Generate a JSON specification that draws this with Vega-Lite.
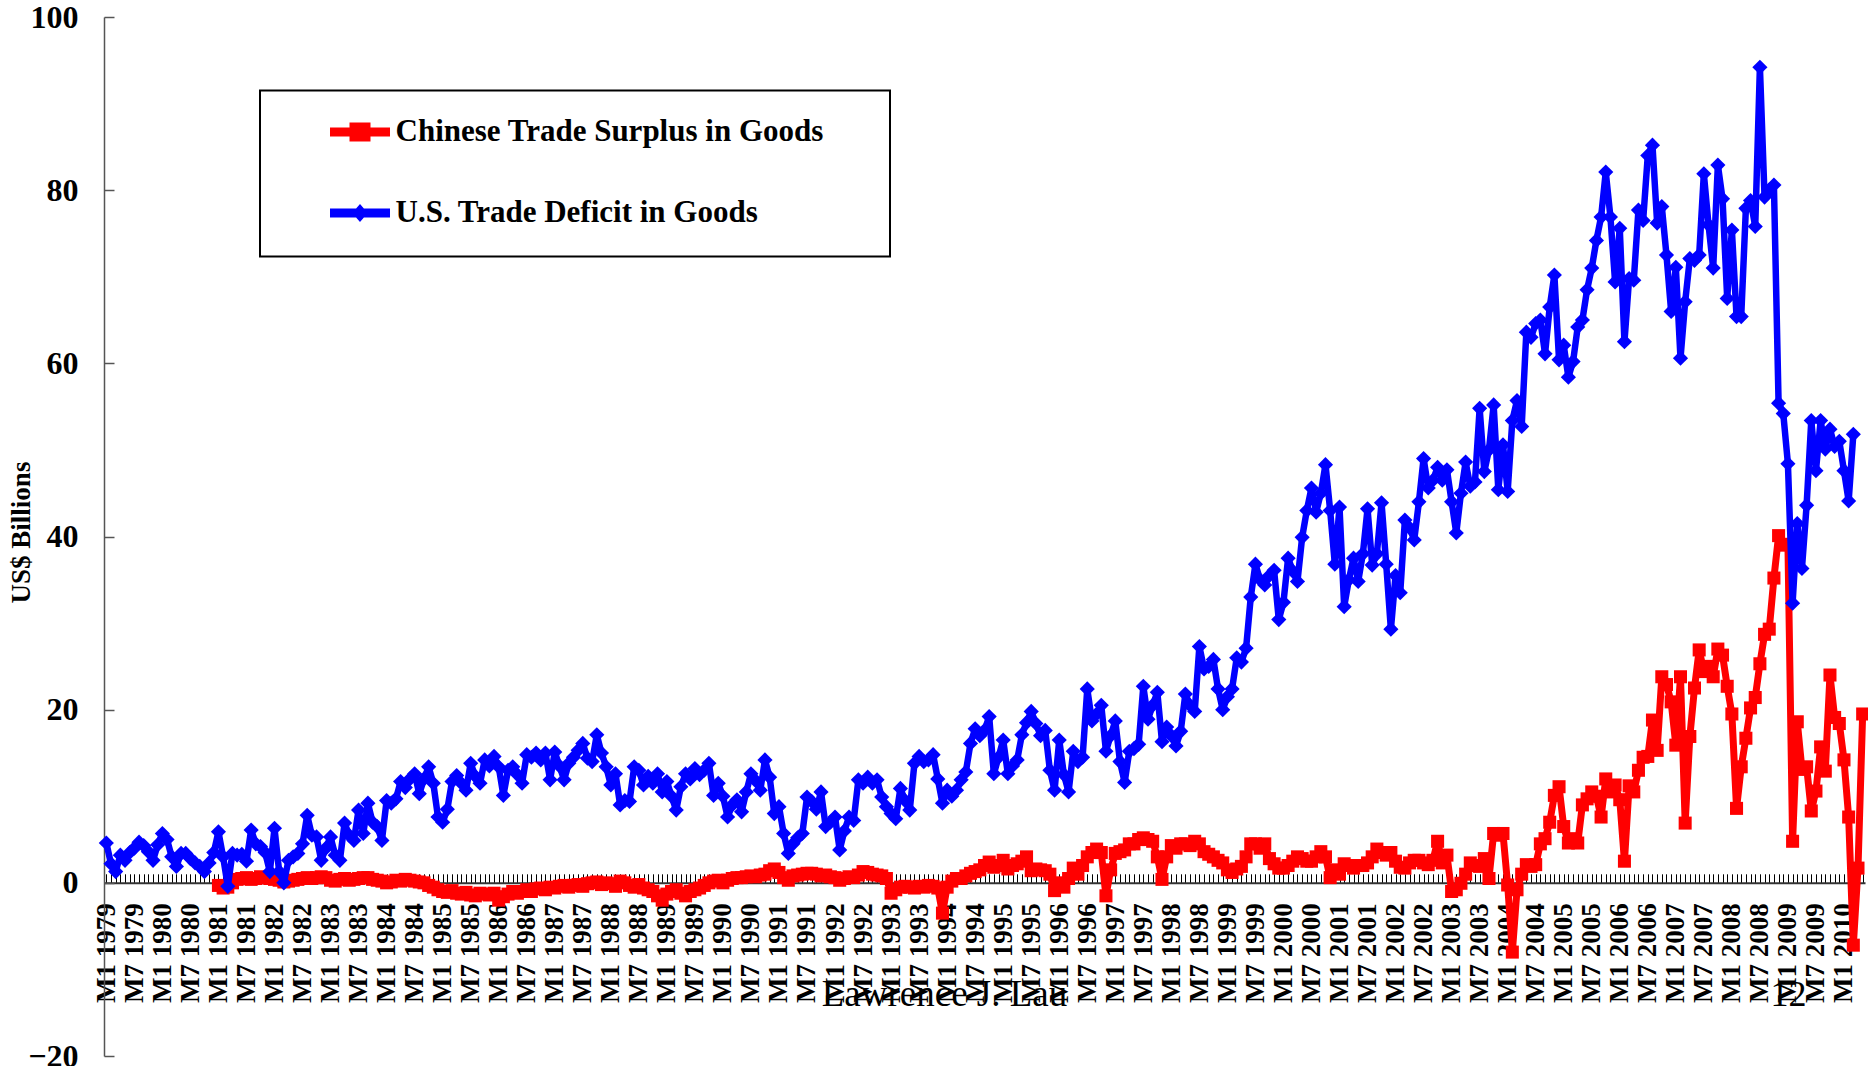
{
"$schema":"https://vega.github.io/schema/vega-lite/v6.json",
"width":1761,"height":1039,
"autosize":{"type":"none"},
"padding":{"left":104,"top":17,"right":3,"bottom":10},
"background":"white",
"config":{"view":{"stroke":null}},
"title":{"text":"Lawrence J. Lau","orient":"bottom","anchor":"middle","frame":"group","offset":-66,"dx":-40,"baseline":"alphabetic","font":"Liberation Serif","fontWeight":"normal","fontSize":37,"color":"#000"},
"data":{"values":[
{"m":"M1 1979","us":4.6},{"m":"M2 1979","us":2.2},{"m":"M3 1979","us":1.3},{"m":"M4 1979","us":3.2},{"m":"M5 1979","us":2.6},{"m":"M6 1979","us":3.5},{"m":"M7 1979","us":4.0},{"m":"M8 1979","us":4.7},{"m":"M9 1979","us":4.3},{"m":"M10 1979","us":3.6},{"m":"M11 1979","us":2.6},{"m":"M12 1979","us":4.4},
{"m":"M1 1980","us":5.7},{"m":"M2 1980","us":5.0},{"m":"M3 1980","us":3.0},{"m":"M4 1980","us":1.9},{"m":"M5 1980","us":3.4},{"m":"M6 1980","us":3.4},{"m":"M7 1980","us":2.8},{"m":"M8 1980","us":2.3},{"m":"M9 1980","us":1.9},{"m":"M10 1980","us":1.3},{"m":"M11 1980","us":2.3},{"m":"M12 1980","us":3.5},
{"m":"M1 1981","us":5.9,"cn":-0.3},{"m":"M2 1981","us":3.0,"cn":-0.6},{"m":"M3 1981","us":-0.4,"cn":-0.5},{"m":"M4 1981","us":3.4,"cn":0.0},{"m":"M5 1981","us":3.2,"cn":0.4},{"m":"M6 1981","us":3.3,"cn":0.5},{"m":"M7 1981","us":2.5,"cn":0.6},{"m":"M8 1981","us":6.1,"cn":0.4},{"m":"M9 1981","us":4.5,"cn":0.5},{"m":"M10 1981","us":4.2,"cn":0.7},{"m":"M11 1981","us":3.5,"cn":0.6},{"m":"M12 1981","us":1.3,"cn":0.5},
{"m":"M1 1982","us":6.3,"cn":0.4},{"m":"M2 1982","us":1.3,"cn":0.3},{"m":"M3 1982","us":0.0,"cn":0.1},{"m":"M4 1982","us":2.6,"cn":0.2},{"m":"M5 1982","us":3.0,"cn":0.3},{"m":"M6 1982","us":3.4,"cn":0.4},{"m":"M7 1982","us":4.5,"cn":0.5},{"m":"M8 1982","us":7.8,"cn":0.6},{"m":"M9 1982","us":5.5,"cn":0.5},{"m":"M10 1982","us":5.3,"cn":0.6},{"m":"M11 1982","us":2.6,"cn":0.7},{"m":"M12 1982","us":4.0,"cn":0.6},
{"m":"M1 1983","us":5.3,"cn":0.3},{"m":"M2 1983","us":3.2,"cn":0.2},{"m":"M3 1983","us":2.6,"cn":0.4},{"m":"M4 1983","us":6.9,"cn":0.5},{"m":"M5 1983","us":5.5,"cn":0.3},{"m":"M6 1983","us":4.9,"cn":0.4},{"m":"M7 1983","us":8.4,"cn":0.5},{"m":"M8 1983","us":5.7,"cn":0.6},{"m":"M9 1983","us":9.2,"cn":0.6},{"m":"M10 1983","us":7.0,"cn":0.4},{"m":"M11 1983","us":6.5,"cn":0.3},{"m":"M12 1983","us":4.9,"cn":0.2},
{"m":"M1 1984","us":9.5,"cn":0.0},{"m":"M2 1984","us":9.2,"cn":0.1},{"m":"M3 1984","us":9.7,"cn":0.3},{"m":"M4 1984","us":11.7,"cn":0.2},{"m":"M5 1984","us":11.0,"cn":0.4},{"m":"M6 1984","us":12.0,"cn":0.3},{"m":"M7 1984","us":12.6,"cn":0.2},{"m":"M8 1984","us":10.3,"cn":0.1},{"m":"M9 1984","us":12.0,"cn":0.0},{"m":"M10 1984","us":13.4,"cn":-0.3},{"m":"M11 1984","us":11.5,"cn":-0.5},{"m":"M12 1984","us":7.6,"cn":-0.8},
{"m":"M1 1985","us":7.0,"cn":-1.0},{"m":"M2 1985","us":8.5,"cn":-1.1},{"m":"M3 1985","us":11.7,"cn":-0.9},{"m":"M4 1985","us":12.4,"cn":-1.2},{"m":"M5 1985","us":11.5,"cn":-1.3},{"m":"M6 1985","us":10.7,"cn":-1.1},{"m":"M7 1985","us":13.8,"cn":-1.4},{"m":"M8 1985","us":12.3,"cn":-1.5},{"m":"M9 1985","us":11.5,"cn":-1.2},{"m":"M10 1985","us":14.2,"cn":-1.3},{"m":"M11 1985","us":13.5,"cn":-1.4},{"m":"M12 1985","us":14.6,"cn":-1.2},
{"m":"M1 1986","us":13.4,"cn":-2.0},{"m":"M2 1986","us":10.1,"cn":-1.6},{"m":"M3 1986","us":13.0,"cn":-1.3},{"m":"M4 1986","us":13.4,"cn":-1.0},{"m":"M5 1986","us":12.5,"cn":-1.2},{"m":"M6 1986","us":11.5,"cn":-1.0},{"m":"M7 1986","us":14.8,"cn":-0.8},{"m":"M8 1986","us":14.5,"cn":-1.0},{"m":"M9 1986","us":15.0,"cn":-0.7},{"m":"M10 1986","us":14.2,"cn":-0.6},{"m":"M11 1986","us":15.0,"cn":-0.8},{"m":"M12 1986","us":11.9,"cn":-0.5},
{"m":"M1 1987","us":15.1,"cn":-0.6},{"m":"M2 1987","us":13.5,"cn":-0.4},{"m":"M3 1987","us":11.9,"cn":-0.3},{"m":"M4 1987","us":13.8,"cn":-0.5},{"m":"M5 1987","us":14.5,"cn":-0.3},{"m":"M6 1987","us":15.3,"cn":-0.2},{"m":"M7 1987","us":16.1,"cn":-0.4},{"m":"M8 1987","us":14.4,"cn":-0.1},{"m":"M9 1987","us":14.0,"cn":0.0},{"m":"M10 1987","us":17.1,"cn":0.1},{"m":"M11 1987","us":15.0,"cn":-0.2},{"m":"M12 1987","us":13.4,"cn":0.0},
{"m":"M1 1988","us":11.3,"cn":-0.1},{"m":"M2 1988","us":12.6,"cn":-0.4},{"m":"M3 1988","us":9.0,"cn":0.2},{"m":"M4 1988","us":9.5,"cn":0.0},{"m":"M5 1988","us":9.4,"cn":-0.3},{"m":"M6 1988","us":13.4,"cn":-0.5},{"m":"M7 1988","us":13.0,"cn":-0.2},{"m":"M8 1988","us":11.3,"cn":-0.6},{"m":"M9 1988","us":12.3,"cn":-0.8},{"m":"M10 1988","us":11.5,"cn":-1.0},{"m":"M11 1988","us":12.6,"cn":-1.5},{"m":"M12 1988","us":10.5,"cn":-2.0},
{"m":"M1 1989","us":11.7,"cn":-1.3},{"m":"M2 1989","us":10.0,"cn":-1.0},{"m":"M3 1989","us":8.4,"cn":-0.8},{"m":"M4 1989","us":11.1,"cn":-1.2},{"m":"M5 1989","us":12.6,"cn":-1.5},{"m":"M6 1989","us":12.0,"cn":-1.0},{"m":"M7 1989","us":13.2,"cn":-0.8},{"m":"M8 1989","us":12.5,"cn":-0.6},{"m":"M9 1989","us":13.0,"cn":-0.3},{"m":"M10 1989","us":13.8,"cn":0.0},{"m":"M11 1989","us":10.1,"cn":0.2},{"m":"M12 1989","us":11.5,"cn":0.3},
{"m":"M1 1990","us":10.0,"cn":0.0},{"m":"M2 1990","us":7.6,"cn":0.3},{"m":"M3 1990","us":9.0,"cn":0.5},{"m":"M4 1990","us":9.6,"cn":0.6},{"m":"M5 1990","us":8.2,"cn":0.6},{"m":"M6 1990","us":10.5,"cn":0.7},{"m":"M7 1990","us":12.6,"cn":0.8},{"m":"M8 1990","us":11.8,"cn":0.7},{"m":"M9 1990","us":10.7,"cn":0.9},{"m":"M10 1990","us":14.2,"cn":1.0},{"m":"M11 1990","us":12.2,"cn":1.4},{"m":"M12 1990","us":8.0,"cn":1.6},
{"m":"M1 1991","us":8.8,"cn":1.2},{"m":"M2 1991","us":5.7,"cn":0.6},{"m":"M3 1991","us":3.4,"cn":0.3},{"m":"M4 1991","us":4.5,"cn":0.8},{"m":"M5 1991","us":5.2,"cn":0.9},{"m":"M6 1991","us":5.7,"cn":1.0},{"m":"M7 1991","us":9.9,"cn":1.1},{"m":"M8 1991","us":9.4,"cn":1.1},{"m":"M9 1991","us":8.5,"cn":1.0},{"m":"M10 1991","us":10.5,"cn":0.8},{"m":"M11 1991","us":6.5,"cn":0.9},{"m":"M12 1991","us":7.0,"cn":0.7},
{"m":"M1 1992","us":7.6,"cn":0.6},{"m":"M2 1992","us":3.8,"cn":0.3},{"m":"M3 1992","us":6.0,"cn":0.5},{"m":"M4 1992","us":7.6,"cn":0.7},{"m":"M5 1992","us":7.2,"cn":0.6},{"m":"M6 1992","us":11.9,"cn":0.9},{"m":"M7 1992","us":11.5,"cn":1.3},{"m":"M8 1992","us":12.2,"cn":1.2},{"m":"M9 1992","us":11.5,"cn":1.0},{"m":"M10 1992","us":11.9,"cn":0.9},{"m":"M11 1992","us":9.9,"cn":0.8},{"m":"M12 1992","us":8.8,"cn":0.5},
{"m":"M1 1993","us":8.0,"cn":-1.2},{"m":"M2 1993","us":7.4,"cn":-0.8},{"m":"M3 1993","us":10.9,"cn":-0.5},{"m":"M4 1993","us":9.5,"cn":-0.4},{"m":"M5 1993","us":8.4,"cn":-0.5},{"m":"M6 1993","us":13.8,"cn":-0.6},{"m":"M7 1993","us":14.6,"cn":-0.4},{"m":"M8 1993","us":14.0,"cn":-0.5},{"m":"M9 1993","us":14.2,"cn":-0.3},{"m":"M10 1993","us":14.8,"cn":-0.4},{"m":"M11 1993","us":12.0,"cn":-0.6},{"m":"M12 1993","us":9.2,"cn":-3.5},
{"m":"M1 1994","us":10.7,"cn":-0.5},{"m":"M2 1994","us":10.0,"cn":0.2},{"m":"M3 1994","us":10.7,"cn":0.5},{"m":"M4 1994","us":11.9,"cn":0.5},{"m":"M5 1994","us":12.8,"cn":0.8},{"m":"M6 1994","us":16.1,"cn":1.1},{"m":"M7 1994","us":17.8,"cn":1.3},{"m":"M8 1994","us":17.0,"cn":1.5},{"m":"M9 1994","us":17.6,"cn":2.0},{"m":"M10 1994","us":19.2,"cn":2.4},{"m":"M11 1994","us":12.6,"cn":1.8},{"m":"M12 1994","us":14.5,"cn":2.0},
{"m":"M1 1995","us":16.5,"cn":2.6},{"m":"M2 1995","us":12.6,"cn":1.6},{"m":"M3 1995","us":13.5,"cn":2.0},{"m":"M4 1995","us":14.2,"cn":2.2},{"m":"M5 1995","us":17.1,"cn":2.5},{"m":"M6 1995","us":18.5,"cn":3.0},{"m":"M7 1995","us":19.8,"cn":1.4},{"m":"M8 1995","us":18.4,"cn":1.6},{"m":"M9 1995","us":17.0,"cn":1.5},{"m":"M10 1995","us":17.6,"cn":1.4},{"m":"M11 1995","us":13.0,"cn":1.0},{"m":"M12 1995","us":10.7,"cn":-0.9},
{"m":"M1 1996","us":16.5,"cn":0.0},{"m":"M2 1996","us":12.5,"cn":-0.5},{"m":"M3 1996","us":10.5,"cn":0.5},{"m":"M4 1996","us":15.2,"cn":1.7},{"m":"M5 1996","us":14.0,"cn":1.0},{"m":"M6 1996","us":14.5,"cn":2.0},{"m":"M7 1996","us":22.4,"cn":3.0},{"m":"M8 1996","us":18.7,"cn":3.5},{"m":"M9 1996","us":19.5,"cn":3.9},{"m":"M10 1996","us":20.5,"cn":3.5},{"m":"M11 1996","us":15.2,"cn":-1.5},{"m":"M12 1996","us":17.0,"cn":1.5},
{"m":"M1 1997","us":18.7,"cn":3.4},{"m":"M2 1997","us":14.0,"cn":3.6},{"m":"M3 1997","us":11.6,"cn":3.8},{"m":"M4 1997","us":15.2,"cn":4.5},{"m":"M5 1997","us":15.5,"cn":4.5},{"m":"M6 1997","us":16.0,"cn":5.0},{"m":"M7 1997","us":22.7,"cn":5.2},{"m":"M8 1997","us":18.9,"cn":5.0},{"m":"M9 1997","us":20.5,"cn":4.8},{"m":"M10 1997","us":22.0,"cn":3.0},{"m":"M11 1997","us":16.3,"cn":0.4},{"m":"M12 1997","us":18.0,"cn":3.0},
{"m":"M1 1998","us":17.0,"cn":4.3},{"m":"M2 1998","us":15.8,"cn":4.0},{"m":"M3 1998","us":17.5,"cn":4.5},{"m":"M4 1998","us":21.8,"cn":4.5},{"m":"M5 1998","us":20.5,"cn":4.3},{"m":"M6 1998","us":19.8,"cn":4.8},{"m":"M7 1998","us":27.3,"cn":4.5},{"m":"M8 1998","us":24.7,"cn":3.6},{"m":"M9 1998","us":25.0,"cn":3.3},{"m":"M10 1998","us":25.8,"cn":3.0},{"m":"M11 1998","us":22.4,"cn":2.6},{"m":"M12 1998","us":20.0,"cn":2.3},
{"m":"M1 1999","us":21.5,"cn":1.5},{"m":"M2 1999","us":22.4,"cn":1.2},{"m":"M3 1999","us":26.0,"cn":1.6},{"m":"M4 1999","us":25.5,"cn":1.9},{"m":"M5 1999","us":27.1,"cn":3.0},{"m":"M6 1999","us":33.0,"cn":4.5},{"m":"M7 1999","us":36.8,"cn":4.5},{"m":"M8 1999","us":35.0,"cn":4.0},{"m":"M9 1999","us":34.4,"cn":4.5},{"m":"M10 1999","us":35.5,"cn":2.8},{"m":"M11 1999","us":36.1,"cn":2.2},{"m":"M12 1999","us":30.4,"cn":1.7},
{"m":"M1 2000","us":32.4,"cn":1.7},{"m":"M2 2000","us":37.5,"cn":2.0},{"m":"M3 2000","us":36.0,"cn":2.5},{"m":"M4 2000","us":34.8,"cn":3.0},{"m":"M5 2000","us":39.9,"cn":2.8},{"m":"M6 2000","us":43.0,"cn":2.5},{"m":"M7 2000","us":45.6,"cn":2.5},{"m":"M8 2000","us":42.8,"cn":3.0},{"m":"M9 2000","us":45.0,"cn":3.6},{"m":"M10 2000","us":48.3,"cn":3.0},{"m":"M11 2000","us":43.0,"cn":0.6},{"m":"M12 2000","us":36.8,"cn":1.5},
{"m":"M1 2001","us":43.4,"cn":1.0},{"m":"M2 2001","us":31.9,"cn":2.2},{"m":"M3 2001","us":35.0,"cn":2.0},{"m":"M4 2001","us":37.5,"cn":1.7},{"m":"M5 2001","us":34.8,"cn":2.0},{"m":"M6 2001","us":38.0,"cn":2.0},{"m":"M7 2001","us":43.2,"cn":2.3},{"m":"M8 2001","us":36.7,"cn":3.0},{"m":"M9 2001","us":38.0,"cn":3.9},{"m":"M10 2001","us":43.9,"cn":3.5},{"m":"M11 2001","us":36.8,"cn":3.2},{"m":"M12 2001","us":29.3,"cn":3.5},
{"m":"M1 2002","us":35.5,"cn":2.5},{"m":"M2 2002","us":33.5,"cn":1.8},{"m":"M3 2002","us":41.9,"cn":1.7},{"m":"M4 2002","us":41.0,"cn":2.3},{"m":"M5 2002","us":39.6,"cn":2.6},{"m":"M6 2002","us":44.0,"cn":2.6},{"m":"M7 2002","us":49.0,"cn":2.3},{"m":"M8 2002","us":45.6,"cn":2.1},{"m":"M9 2002","us":46.5,"cn":2.6},{"m":"M10 2002","us":48.0,"cn":4.8},{"m":"M11 2002","us":46.5,"cn":2.3},{"m":"M12 2002","us":47.7,"cn":3.2},
{"m":"M1 2003","us":44.0,"cn":-1.0},{"m":"M2 2003","us":40.4,"cn":-0.8},{"m":"M3 2003","us":45.0,"cn":-0.05},{"m":"M4 2003","us":48.6,"cn":1.0},{"m":"M5 2003","us":45.8,"cn":2.3},{"m":"M6 2003","us":46.3,"cn":2.0},{"m":"M7 2003","us":54.8,"cn":1.9},{"m":"M8 2003","us":47.5,"cn":2.8},{"m":"M9 2003","us":50.0,"cn":0.5},{"m":"M10 2003","us":55.2,"cn":5.7},{"m":"M11 2003","us":45.4,"cn":5.5},{"m":"M12 2003","us":50.6,"cn":5.7},
{"m":"M1 2004","us":45.2,"cn":-0.25},{"m":"M2 2004","us":53.4,"cn":-8.0},{"m":"M3 2004","us":55.7,"cn":-0.8},{"m":"M4 2004","us":52.7,"cn":1.0},{"m":"M5 2004","us":63.6,"cn":2.1},{"m":"M6 2004","us":63.0,"cn":1.9},{"m":"M7 2004","us":64.6,"cn":2.1},{"m":"M8 2004","us":65.0,"cn":4.5},{"m":"M9 2004","us":61.1,"cn":5.1},{"m":"M10 2004","us":66.5,"cn":7.0},{"m":"M11 2004","us":70.2,"cn":10.1},{"m":"M12 2004","us":60.4,"cn":11.1},
{"m":"M1 2005","us":62.1,"cn":6.5},{"m":"M2 2005","us":58.4,"cn":4.6},{"m":"M3 2005","us":60.2,"cn":5.1},{"m":"M4 2005","us":64.2,"cn":4.6},{"m":"M5 2005","us":65.0,"cn":9.0},{"m":"M6 2005","us":68.5,"cn":9.7},{"m":"M7 2005","us":71.0,"cn":10.5},{"m":"M8 2005","us":74.2,"cn":10.0},{"m":"M9 2005","us":76.9,"cn":7.6},{"m":"M10 2005","us":82.1,"cn":12.0},{"m":"M11 2005","us":76.9,"cn":10.5},{"m":"M12 2005","us":69.4,"cn":11.3},
{"m":"M1 2006","us":75.6,"cn":9.6},{"m":"M2 2006","us":62.5,"cn":2.5},{"m":"M3 2006","us":69.8,"cn":11.2},{"m":"M4 2006","us":69.6,"cn":10.5},{"m":"M5 2006","us":77.7,"cn":13.0},{"m":"M6 2006","us":76.5,"cn":14.5},{"m":"M7 2006","us":84.0,"cn":14.6},{"m":"M8 2006","us":85.2,"cn":18.8},{"m":"M9 2006","us":76.2,"cn":15.3},{"m":"M10 2006","us":78.1,"cn":23.8},{"m":"M11 2006","us":72.5,"cn":22.9},{"m":"M12 2006","us":66.0,"cn":20.9},
{"m":"M1 2007","us":71.1,"cn":15.9},{"m":"M2 2007","us":60.6,"cn":23.8},{"m":"M3 2007","us":67.1,"cn":6.9},{"m":"M4 2007","us":72.1,"cn":16.9},{"m":"M5 2007","us":71.9,"cn":22.5},{"m":"M6 2007","us":72.5,"cn":26.9},{"m":"M7 2007","us":81.9,"cn":24.4},{"m":"M8 2007","us":76.0,"cn":25.0},{"m":"M9 2007","us":71.0,"cn":23.8},{"m":"M10 2007","us":82.9,"cn":27.0},{"m":"M11 2007","us":79.0,"cn":26.3},{"m":"M12 2007","us":67.5,"cn":22.7},
{"m":"M1 2008","us":75.4,"cn":19.5},{"m":"M2 2008","us":65.4,"cn":8.6},{"m":"M3 2008","us":65.4,"cn":13.4},{"m":"M4 2008","us":77.9,"cn":16.7},{"m":"M5 2008","us":78.8,"cn":20.2},{"m":"M6 2008","us":75.8,"cn":21.4},{"m":"M7 2008","us":94.2,"cn":25.3},{"m":"M8 2008","us":79.2,"cn":28.7},{"m":"M9 2008","us":80.0,"cn":29.3},{"m":"M10 2008","us":80.6,"cn":35.2},{"m":"M11 2008","us":55.4,"cn":40.1},{"m":"M12 2008","us":54.2,"cn":39.0},
{"m":"M1 2009","us":48.4,"cn":39.1},{"m":"M2 2009","us":32.3,"cn":4.8},{"m":"M3 2009","us":41.5,"cn":18.6},{"m":"M4 2009","us":36.3,"cn":13.1},{"m":"M5 2009","us":43.6,"cn":13.4},{"m":"M6 2009","us":53.4,"cn":8.3},{"m":"M7 2009","us":47.6,"cn":10.6},{"m":"M8 2009","us":53.4,"cn":15.7},{"m":"M9 2009","us":50.1,"cn":12.9},{"m":"M10 2009","us":52.4,"cn":24.0},{"m":"M11 2009","us":50.4,"cn":19.1},{"m":"M12 2009","us":51.0,"cn":18.4},
{"m":"M1 2010","us":47.6,"cn":14.2},{"m":"M2 2010","us":44.1,"cn":7.6},{"m":"M3 2010","us":51.8,"cn":-7.2},{"m":"M4 2010","cn":1.7},{"m":"M5 2010","cn":19.5}
]},
"transform":[{"fold":["cn","us"],"as":["s","v"]},{"filter":"isValid(datum.v)"}],
"encoding":{
"x":{"field":"m","type":"ordinal","scale":{"type":"point","padding":0.5,"domain":["M1 1979","M2 1979","M3 1979","M4 1979","M5 1979","M6 1979","M7 1979","M8 1979","M9 1979","M10 1979","M11 1979","M12 1979","M1 1980","M2 1980","M3 1980","M4 1980","M5 1980","M6 1980","M7 1980","M8 1980","M9 1980","M10 1980","M11 1980","M12 1980","M1 1981","M2 1981","M3 1981","M4 1981","M5 1981","M6 1981","M7 1981","M8 1981","M9 1981","M10 1981","M11 1981","M12 1981","M1 1982","M2 1982","M3 1982","M4 1982","M5 1982","M6 1982","M7 1982","M8 1982","M9 1982","M10 1982","M11 1982","M12 1982","M1 1983","M2 1983","M3 1983","M4 1983","M5 1983","M6 1983","M7 1983","M8 1983","M9 1983","M10 1983","M11 1983","M12 1983","M1 1984","M2 1984","M3 1984","M4 1984","M5 1984","M6 1984","M7 1984","M8 1984","M9 1984","M10 1984","M11 1984","M12 1984","M1 1985","M2 1985","M3 1985","M4 1985","M5 1985","M6 1985","M7 1985","M8 1985","M9 1985","M10 1985","M11 1985","M12 1985","M1 1986","M2 1986","M3 1986","M4 1986","M5 1986","M6 1986","M7 1986","M8 1986","M9 1986","M10 1986","M11 1986","M12 1986","M1 1987","M2 1987","M3 1987","M4 1987","M5 1987","M6 1987","M7 1987","M8 1987","M9 1987","M10 1987","M11 1987","M12 1987","M1 1988","M2 1988","M3 1988","M4 1988","M5 1988","M6 1988","M7 1988","M8 1988","M9 1988","M10 1988","M11 1988","M12 1988","M1 1989","M2 1989","M3 1989","M4 1989","M5 1989","M6 1989","M7 1989","M8 1989","M9 1989","M10 1989","M11 1989","M12 1989","M1 1990","M2 1990","M3 1990","M4 1990","M5 1990","M6 1990","M7 1990","M8 1990","M9 1990","M10 1990","M11 1990","M12 1990","M1 1991","M2 1991","M3 1991","M4 1991","M5 1991","M6 1991","M7 1991","M8 1991","M9 1991","M10 1991","M11 1991","M12 1991","M1 1992","M2 1992","M3 1992","M4 1992","M5 1992","M6 1992","M7 1992","M8 1992","M9 1992","M10 1992","M11 1992","M12 1992","M1 1993","M2 1993","M3 1993","M4 1993","M5 1993","M6 1993","M7 1993","M8 1993","M9 1993","M10 1993","M11 1993","M12 1993","M1 1994","M2 1994","M3 1994","M4 1994","M5 1994","M6 1994","M7 1994","M8 1994","M9 1994","M10 1994","M11 1994","M12 1994","M1 1995","M2 1995","M3 1995","M4 1995","M5 1995","M6 1995","M7 1995","M8 1995","M9 1995","M10 1995","M11 1995","M12 1995","M1 1996","M2 1996","M3 1996","M4 1996","M5 1996","M6 1996","M7 1996","M8 1996","M9 1996","M10 1996","M11 1996","M12 1996","M1 1997","M2 1997","M3 1997","M4 1997","M5 1997","M6 1997","M7 1997","M8 1997","M9 1997","M10 1997","M11 1997","M12 1997","M1 1998","M2 1998","M3 1998","M4 1998","M5 1998","M6 1998","M7 1998","M8 1998","M9 1998","M10 1998","M11 1998","M12 1998","M1 1999","M2 1999","M3 1999","M4 1999","M5 1999","M6 1999","M7 1999","M8 1999","M9 1999","M10 1999","M11 1999","M12 1999","M1 2000","M2 2000","M3 2000","M4 2000","M5 2000","M6 2000","M7 2000","M8 2000","M9 2000","M10 2000","M11 2000","M12 2000","M1 2001","M2 2001","M3 2001","M4 2001","M5 2001","M6 2001","M7 2001","M8 2001","M9 2001","M10 2001","M11 2001","M12 2001","M1 2002","M2 2002","M3 2002","M4 2002","M5 2002","M6 2002","M7 2002","M8 2002","M9 2002","M10 2002","M11 2002","M12 2002","M1 2003","M2 2003","M3 2003","M4 2003","M5 2003","M6 2003","M7 2003","M8 2003","M9 2003","M10 2003","M11 2003","M12 2003","M1 2004","M2 2004","M3 2004","M4 2004","M5 2004","M6 2004","M7 2004","M8 2004","M9 2004","M10 2004","M11 2004","M12 2004","M1 2005","M2 2005","M3 2005","M4 2005","M5 2005","M6 2005","M7 2005","M8 2005","M9 2005","M10 2005","M11 2005","M12 2005","M1 2006","M2 2006","M3 2006","M4 2006","M5 2006","M6 2006","M7 2006","M8 2006","M9 2006","M10 2006","M11 2006","M12 2006","M1 2007","M2 2007","M3 2007","M4 2007","M5 2007","M6 2007","M7 2007","M8 2007","M9 2007","M10 2007","M11 2007","M12 2007","M1 2008","M2 2008","M3 2008","M4 2008","M5 2008","M6 2008","M7 2008","M8 2008","M9 2008","M10 2008","M11 2008","M12 2008","M1 2009","M2 2009","M3 2009","M4 2009","M5 2009","M6 2009","M7 2009","M8 2009","M9 2009","M10 2009","M11 2009","M12 2009","M1 2010","M2 2010","M3 2010","M4 2010","M5 2010"]},
"axis":{"orient":"bottom","offset":-173.2,"title":"12","titleX":1684,"titleY":123,"titleAlign":"center","titleBaseline":"alphabetic","titleFont":"Liberation Serif","titleFontWeight":"normal","titleFontSize":36,"titleColor":"#000","labelExpr":"(indexof(datum.label,'M1 ')===0 || indexof(datum.label,'M7 ')===0) ? datum.label : ''","labelAngle":270,"labelFont":"Liberation Serif","labelFontWeight":"bold","labelFontSize":27,"labelColor":"#000","labelPadding":29,"labelOverlap":false,"labelBound":false,"tickSize":-9,"tickColor":"#000","tickWidth":1,"domainColor":"#333","domainWidth":2,"grid":false}},
"y":{"field":"v","type":"quantitative","scale":{"domain":[-20,100],"nice":false,"zero":false},
"axis":{"values":[-20,0,20,40,60,80,100],"title":"US$ Billions","titleX":-83,"titleY":515,"titleAngle":270,"titleAlign":"center","titleBaseline":"middle","titleFont":"Liberation Serif","titleFontWeight":"bold","titleFontSize":27,"titleColor":"#000","labelFont":"Liberation Serif","labelFontWeight":"bold","labelFontSize":32,"labelColor":"#000","labelPadding":36,"tickSize":-10,"tickColor":"#555","tickWidth":1.5,"domainColor":"#555","domainWidth":1.5,"grid":false}},
"color":{"field":"s","type":"nominal","scale":{"domain":["cn","us"],"range":["#ff0000","#0000ff"]},
"legend":{"orient":"none","legendX":156,"legendY":73.5,"title":" ","titleOrient":"bottom","titleFontSize":10,"titlePadding":7,"direction":"vertical","strokeColor":"#000","padding":11.5,"symbolSize":3600,"symbolOffset":58.5,"labelOffset":5.5,"rowPadding":36,"labelFont":"Liberation Serif","labelFontWeight":"bold","labelFontSize":31,"labelColor":"#000","labelLimit":0,
"labelExpr":"datum.value === 'cn' ? 'Chinese Trade Surplus in Goods\u00a0\u00a0\u00a0\u00a0\u00a0\u00a0\u00a0\u200b' : 'U.S. Trade Deficit in Goods'",
"encode":{"legend":{"update":{"strokeWidth":{"value":2}}},"symbols":{"update":{"shape":{"signal":"datum.value === 'cn' ? 'M-1,-0.15H-0.35V-0.32H0.35V-0.15H1V0.15H0.35V0.32H-0.35V0.15H-1Z' : 'M-1,-0.15H-0.13L0,-0.3L0.13,-0.15H1V0.15H0.13L0,0.3L-0.13,0.15H-1Z'"},"fill":{"signal":"datum.value === 'cn' ? '#ff0000' : '#0000ff'"},"fillOpacity":{"value":1},"opacity":{"value":1},"stroke":{"value":"transparent"},"strokeWidth":{"value":0}}}}}}
},
"layer":[
{"transform":[{"filter":"datum.s === 'cn'"}],"mark":{"type":"line","strokeWidth":7,"strokeJoin":"round","strokeCap":"round","point":{"shape":"square","filled":true,"size":170,"opacity":1}}},
{"transform":[{"filter":"datum.s === 'us'"}],"mark":{"type":"line","strokeWidth":6.5,"strokeJoin":"round","strokeCap":"round","point":{"shape":"diamond","filled":true,"size":230,"opacity":1}}}
]
}
